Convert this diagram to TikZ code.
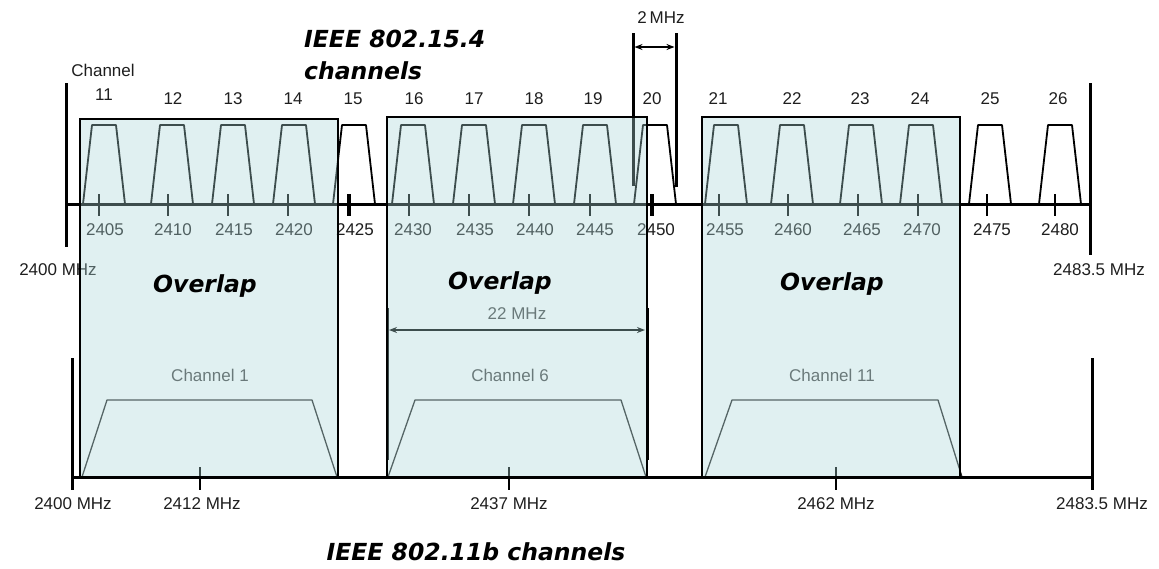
\documentclass[tikz,border=0pt]{standalone}
\usepackage{fontspec}
\setmainfont{Liberation Sans}
\newfontfamily\titlefont{DejaVu Sans}
\usetikzlibrary{arrows.meta}
\definecolor{boxfill}{RGB}{170,214,216}
\definecolor{txt}{RGB}{30,30,30}
\definecolor{greytxt}{RGB}{70,70,70}
\tikzset{
  lbl/.style={font=\fontsize{17}{19}\selectfont, text=txt, inner sep=0pt},
  glbl/.style={font=\fontsize{17}{19}\selectfont, text=greytxt, inner sep=0pt},
  bigital/.style={font=\titlefont\bfseries\itshape\fontsize{23.5}{32}\selectfont, inner sep=0pt},
  axisline/.style={line width=3pt},
  trap/.style={line width=1.8pt, line join=round},
  btrap/.style={line width=1.3pt, draw=black!85, line join=round},
  overlapbox/.style={fill=boxfill, fill opacity=0.36, draw=black, line width=1.8pt},
  tick/.style={line width=1.8pt},
  marker/.style={line width=3pt},
  dimarrow/.style={line width=1.6pt, {Stealth[length=8pt,width=6pt]}-{Stealth[length=8pt,width=6pt]}}
}
\begin{document}
\begin{tikzpicture}[x=1pt,y=-1pt]
\useasboundingbox (0,0) rectangle (1159,568);

% ---------- top axis (802.15.4) ----------
\coordinate (tl) at (66,204);
\coordinate (tr) at (1090,204);
\draw[axisline] (tl) -- (tr);
\draw[axisline] (66,83) -- (66,247);
\draw[axisline] (1090,83) -- (1090,255);

% trapezoids
\foreach \c in {104,172,233,294,354,413,474,534,595,655,726,792,861,921,990,1060}{
  \draw[trap] (\c-21,204) -- (\c-12,125) -- (\c+12,125) -- (\c+21,204);
}
% ticks
\foreach \x in {99,168,228,288,409,469,529,590,719,788,858,918,987,1055}{
  \draw[tick] (\x,194) -- (\x,216);
}
\foreach \x in {349,652}{
  \draw[line width=3.2pt] (\x,194) -- (\x,216);
}
% frequency labels
\foreach \x/\t in {105/2405,173/2410,234/2415,294/2420,355/2425,413/2430,475/2435,535/2440,595/2445,656/2450,725/2455,793/2460,862/2465,922/2470,992/2475,1060/2480}{
  \node[lbl] (f\t) at (\x,230) {\t};
}
% channel numbers
\node[lbl] (chan) at (103,70) {Channel};
\node[lbl] (c11) at (104,95) {11};
\foreach \x/\t in {173/12,233/13,293/14,353/15,414/16,474/17,534/18,593/19,652/20,718/21,792/22,860/23,920/24,990/25,1058/26}{
  \node[lbl] (c\t) at (\x,99) {\t};
}
\node[lbl] (t2400) at (58,270) {2400 MHz};
\node[lbl] (t2483) at (1099,270) {2483.5 MHz};

% 2 MHz marker
\coordinate (m1t) at (633,33);
\coordinate (m1b) at (633,186);
\coordinate (m2t) at (676,33);
\coordinate (m2b) at (676,187);
\draw[marker] (m1t) -- (m1b);
\draw[marker] (m2t) -- (m2b);
\coordinate (a1) at (634.5,47);
\coordinate (a2) at (674.5,47);
\draw[dimarrow] (a1) -- (a2);
\node[lbl] (twomhz) at (661,18) {2\,MHz};

% ---------- bottom (802.11b) ----------
\draw[btrap] (82,477) -- (107,400) -- (312,400) -- (337,477);
\draw[btrap] (388,477) -- (415,400) -- (621,400) -- (646,477);
\draw[btrap] (705,477) -- (732,400) -- (938,400) -- (962,477);
\foreach \x in {200,509,836}{
  \draw[line width=2.5pt] (\x,467) -- (\x,490);
}
\node[glbl] (ch1) at (210,375) {Channel 1};
\node[glbl] (ch6) at (510,375) {Channel 6};
\node[glbl] (ch11) at (832,375) {Channel 11};

% 22 MHz marker
\coordinate (w1t) at (387,308);
\coordinate (w1b) at (387,460);
\coordinate (w2t) at (647,308);
\coordinate (w2b) at (647,460);
\draw[marker] (w1t) -- (w1b);
\draw[marker] (w2t) -- (w2b);
\coordinate (b1) at (389,330);
\coordinate (b2) at (645,330);
\draw[dimarrow] (b1) -- (b2);
\node[glbl] (twentytwo) at (517,314) {22 MHz};

% ---------- overlap boxes ----------
\draw[overlapbox] (80,119) rectangle (338,477);
\draw[overlapbox] (387,117) rectangle (647,477);
\draw[overlapbox] (702,117) rectangle (960,477);

% bottom axis on top
\coordinate (bl) at (72,477);
\coordinate (br) at (1092,477);
\draw[axisline] (bl) -- (br);
\draw[axisline] (72,358) -- (72,490);
\draw[axisline] (1092,358) -- (1092,490);

\node[lbl] (b2400) at (73,504) {2400 MHz};
\node[lbl] (b2412) at (202,504) {2412 MHz};
\node[lbl] (b2437) at (509,504) {2437 MHz};
\node[lbl] (b2462) at (836,504) {2462 MHz};
\node[lbl] (b2483) at (1102,504) {2483.5 MHz};

% big italic labels
\node[bigital, anchor=base] (ov1) at (205,292) {Overlap};
\node[bigital, anchor=base] (ov2) at (500,289) {Overlap};
\node[bigital, anchor=base] (ov3) at (832,290) {Overlap};
\node[bigital, anchor=base west] (t154a) at (304,47) {IEEE 802.15.4};
\node[bigital, anchor=base west] (t154b) at (304,79) {channels};
\node[bigital, anchor=base] (t11b) at (476,560) {IEEE 802.11b channels};
\end{tikzpicture}
\end{document}
